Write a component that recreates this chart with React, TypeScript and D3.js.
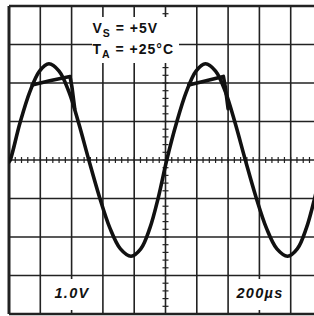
import * as d3 from "d3";

// scope settings: 200us / div horizontally, 1.0V / div vertically
const timeDivs = [0, 200, 400, 600, 800, 1000, 1200, 1400, 1600, 1800, 2000];
const voltDivs = [-4, -3, -2, -1, 0, 1, 2, 3, 4];

// input sine (time in us, volts)
const inputTime = [0, 8, 70, 133, 195, 255, 320, 383, 445, 510, 578, 645, 712, 780, 842, 900, 955, 1008, 1070, 1133, 1195, 1255, 1320, 1383, 1445, 1510, 1578, 1645, 1712, 1780, 1842, 1900, 1955, 2008];
const inputV = [-0.05, 0, 0.96, 1.77, 2.31, 2.5, 2.31, 1.77, 0.96, 0, -0.96, -1.77, -2.31, -2.5, -2.31, -1.77, -0.96, 0, 0.96, 1.77, 2.31, 2.5, 2.31, 1.77, 0.96, 0, -0.96, -1.77, -2.31, -2.5, -2.31, -1.77, -0.96, 0];

// output clipping near the positive rail
const clip1Time = [148, 260, 390, 402, 420];
const clip1V = [1.95, 2.06, 2.17, 1.9, 1.33];
const clip2Time = [1148, 1260, 1370, 1382, 1400];
const clip2V = [1.95, 2.06, 2.17, 1.9, 1.33];

const x = d3.scaleLinear().domain([0, 2000]).range([9, 322]);
const y = d3.scaleLinear().domain([-4, 4]).range([314, 6]);

const App = () => {
  const line = d3
    .line<number>()
    .x((d, i) => x(inputTime[i]))
    .y((d) => y(d))
    .curve(d3.curveCatmullRom);

  const clipLine = (ts: number[]) =>
    d3
      .line<number>()
      .x((d, i) => x(ts[i]))
      .y((d) => y(d))
      .curve(d3.curveLinear);

  const xMinor = d3.range(0, 2001, 40);
  const yMinor = d3.range(-4, 4.01, 0.2);
  const gridColor = "#222";

  return (
    <svg width={314} height={316} style={{ position: "absolute", left: 0, top: 0, background: "#fff" }}>
      <defs>
        <clipPath id="plot">
          <rect x={9} y={6} width={313} height={308} />
        </clipPath>
      </defs>
      {timeDivs.map((t) => (
        <line key={"vx" + t} x1={x(t)} x2={x(t)} y1={y(4)} y2={y(-4)} stroke={gridColor} strokeWidth={t === 0 ? 3 : 1.6} />
      ))}
      {voltDivs.map((v) => (
        <line key={"hy" + v} x1={x(0)} x2={314} y1={y(v)} y2={y(v)} stroke={gridColor} strokeWidth={Math.abs(v) === 4 ? 2.6 : 1.6} />
      ))}
      {xMinor.map((t) => (
        <line key={"mx" + t} x1={x(t)} x2={x(t)} y1={y(0) - 3} y2={y(0) + 3} stroke={gridColor} strokeWidth={1.2} />
      ))}
      {yMinor.map((v) => (
        <line key={"my" + v.toFixed(1)} x1={x(1000) - 3} x2={x(1000) + 3} y1={y(v)} y2={y(v)} stroke={gridColor} strokeWidth={1.2} />
      ))}

      {/* label boxes */}
      <rect x={92} y={17} width={87} height={46} fill="#fff" />
      <rect x={48} y={279} width={48} height={31} fill="#fff" />
      <rect x={234} y={279} width={52} height={31} fill="#fff" />

      <g clipPath="url(#plot)" fill="none" stroke="#111" strokeWidth={3.6} strokeLinejoin="round" strokeLinecap="round">
        <path d={line(inputV) || ""} />
        <path d={clipLine(clip1Time)(clip1V) || ""} />
        <path d={clipLine(clip2Time)(clip2V) || ""} />
      </g>

      <g fontFamily="'Liberation Sans', Arial, sans-serif" fontWeight="bold" fill="#111">
        <text x={92.5} y={33} fontSize={14} letterSpacing={1}>
          V<tspan fontSize={10.5} dy={3.5}>S</tspan>
          <tspan dy={-3.5}> = +5V</tspan>
        </text>
        <text x={92.5} y={54} fontSize={14} letterSpacing={1}>
          T<tspan fontSize={10.5} dy={3.5}>A</tspan>
          <tspan dy={-3.5}> = +25°C</tspan>
        </text>
        <text x={72} y={298} fontSize={14.5} fontStyle="italic" letterSpacing={1.3} textAnchor="middle">
          1.0V
        </text>
        <text x={260} y={298} fontSize={14.5} fontStyle="italic" letterSpacing={1.3} textAnchor="middle">
          200µs
        </text>
      </g>
    </svg>
  );
};

export default App;
